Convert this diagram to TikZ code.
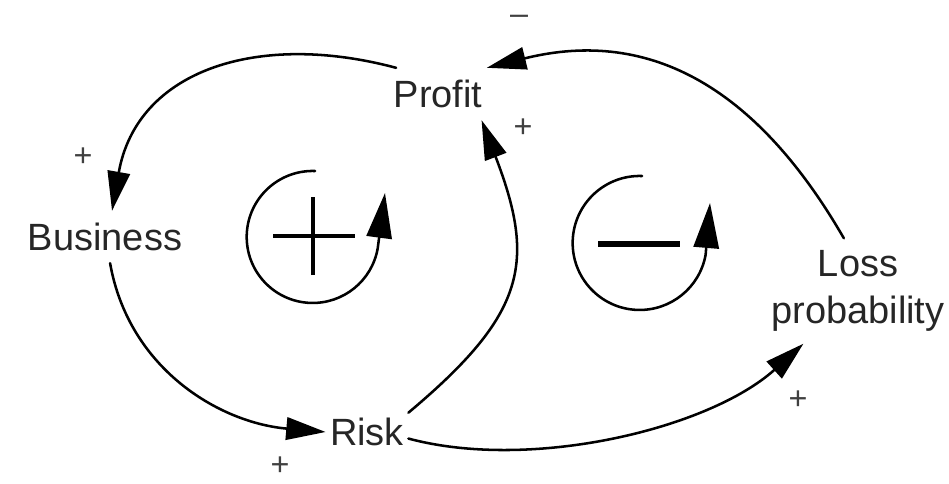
\documentclass[tikz,border=0pt]{standalone}
\usepackage{fontspec}
\setmainfont{Liberation Sans}
\usetikzlibrary{arrows.meta}

\begin{document}
\begin{tikzpicture}[
    x=0.025cm, y=0.025cm,
    >={Triangle[length=28pt,width=16pt]},
    line cap=round,
    line join=round,
    var/.style={font=\fontsize{27}{33.4}\selectfont, text=black!85,
        inner xsep=3pt, inner ysep=8.5pt, align=center},
    link/.style={line width=1.8pt, ->},
    sign/.style={font=\fontsize{23}{25}\selectfont, text=black!75, inner sep=0pt},
    loopline/.style={line width=1.8pt, -{Triangle[length=32pt,width=18pt]}}
]

\useasboundingbox (0,0) rectangle (949,483);

% Variables of the loop diagram
\node[var] (profit)   at (438,389) {Profit};
\node[var] (business) at (105,246) {Business};
\node[var] (risk)     at (367,51)  {Risk};
\node[var] (loss)     at (858,192) {Loss\\probability};

% Causal links
\draw[link] (profit.148) to[out=165,in=80,looseness=1.15] (business.75);
\draw[link] (business.-79) to[out=-80,in=175] (risk.west);
\draw[link] (risk.25) to[out=40,in=-69,looseness=1.3] (profit.-31.6);
\draw[link] (risk.-9) to[out=-15,in=222,looseness=0.8] (loss.-136);
\draw[link] (loss.105) to[out=120,in=14,looseness=1.1] (profit.north east);

% Polarity of each link
\node[sign] (pb) at (83,326)  {+};
\node[sign] (rp) at (523,355) {+};
\node[sign] (br) at (280,17)  {+};
\node[sign] (rl) at (798,83)  {+};
\node[sign] (lp) at (519,463) {--};

% Reinforcing loop
\draw[loopline] (315,312) arc[start angle=88, end angle=350, radius=66] -- (385,290);
\draw[line width=3.5pt, line cap=butt] (273,247) -- (355,247) (313,208) -- (313,286);

% Balancing loop
\draw[loopline] (642,307) arc[start angle=88, end angle=350, radius=67] -- (710,280);
\draw[line width=4pt, line cap=butt] (598,239) -- (680,239);

\end{tikzpicture}
\end{document}
